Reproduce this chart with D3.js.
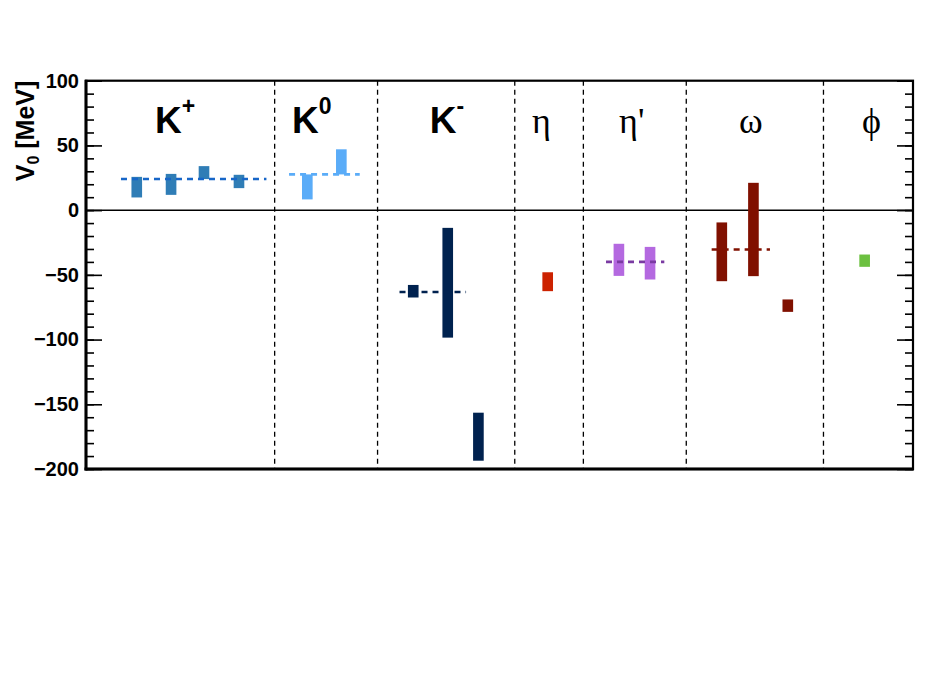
<!DOCTYPE html>
<html>
<head>
<meta charset="utf-8">
<script src="https://cdn.jsdelivr.net/npm/d3@7"></script>
<style>
  html, body { margin: 0; padding: 0; background: #fff; }
  svg { display: block; }
</style>
</head>
<body>
<svg id="chart" width="926" height="695"></svg>
<script>
// ---------------- data ----------------
const yTicks = [-200, -150, -100, -50, 0, 50, 100];
const separators = [2.75, 4.25, 6.25, 7.25, 8.75, 10.75];

const categories = ["K", "K", "K", "\u03B7", "\u03B7'", "\u03C9", "\u03D5"];
const categorySup = ["+", "0", "-", "", "", "", ""];
const categoryPos = [1.30, 3.29, 5.26, 6.64, 7.955, 9.69, 11.45];
const categoryColors = ["#2f7db6", "#5aacf8", "#00224f", "#cc2200", "#b469e0", "#801000", "#6cc040"];
const categoryDashColors = ["#1766c8", "#5aacf8", "#00224f", null, "#7a3aa2", "#801000", null];

// measurements: category index, x position, low, high (MeV)
const measCategory = [0, 0, 0, 0, 1, 1, 2, 2, 2, 3, 4, 4, 5, 5, 5, 6];
const measPos      = [0.74, 1.24, 1.72, 2.23, 3.226, 3.722, 4.77, 5.273, 5.72, 6.73, 7.768, 8.222, 9.268, 9.729, 10.23, 11.35];
const measLow      = [9.8, 11.8, 24, 17, 8.3, 27.6, -67.5, -98.5, -193.6, -62.6, -50.8, -53.6, -54.9, -51, -78.6, -43.8];
const measHigh     = [25.7, 28, 34, 27.3, 27.6, 47, -57.8, -13.7, -156.5, -48, -26, -28.4, -9.5, 21.1, -69, -34.3];

// average lines: category index, x from, x to, value
const avgCategory = [0, 1, 2, 4, 5];
const avgFrom     = [0.51, 2.96, 4.57, 7.58, 9.12];
const avgTo       = [2.63, 3.99, 5.54, 8.43, 9.97];
const avgValue    = [24, 27.6, -63.2, -40, -30.4];

// ---------------- layout ----------------
const L = 86, R = 913, T = 80.7, B = 469;
const svg = d3.select("#chart");
const x = d3.scaleLinear().domain([0, 12.055]).range([L, R]);
const y = d3.scaleLinear().domain([-200, 100]).range([B, T]);
const barW = 0.155;

// zero line
svg.append("line")
  .attr("x1", L).attr("x2", R).attr("y1", y(0)).attr("y2", y(0))
  .attr("stroke", "#000").attr("stroke-width", 1.5);

// separators
svg.selectAll("line.sep").data(separators).join("line")
  .attr("class", "sep")
  .attr("x1", d => x(d)).attr("x2", d => x(d))
  .attr("y1", T).attr("y2", B)
  .attr("stroke", "#000").attr("stroke-width", 1.3)
  .attr("stroke-dasharray", "5,4");

// bars
const meas = measPos.map((p, i) => ({ c: measCategory[i], p, lo: measLow[i], hi: measHigh[i] }));
svg.selectAll("rect.bar").data(meas).join("rect")
  .attr("class", "bar")
  .attr("x", d => x(d.p - barW / 2))
  .attr("width", d => x(d.p + barW / 2) - x(d.p - barW / 2))
  .attr("y", d => y(d.hi))
  .attr("height", d => y(d.lo) - y(d.hi))
  .attr("fill", d => categoryColors[d.c]);

// averages
const avgs = avgValue.map((v, i) => ({ c: avgCategory[i], a: avgFrom[i], b: avgTo[i], v }));
svg.selectAll("line.avg").data(avgs).join("line")
  .attr("class", "avg")
  .attr("x1", d => x(d.a)).attr("x2", d => x(d.b))
  .attr("y1", d => y(d.v)).attr("y2", d => y(d.v))
  .attr("stroke", d => categoryDashColors[d.c])
  .attr("stroke-width", 2.6)
  .attr("stroke-dasharray", "6,5");

// axes ticks
const minorTicks = d3.range(-200, 101, 10);
svg.append("g").attr("transform", `translate(${L},0)`)
  .call(d3.axisLeft(y).tickValues(minorTicks).tickSize(-8).tickFormat(""))
  .call(g => g.select(".domain").remove())
  .call(g => g.selectAll("line").attr("stroke-width", 1.6));
svg.append("g").attr("transform", `translate(${L},0)`)
  .call(d3.axisLeft(y).tickValues(yTicks).tickSize(-16).tickPadding(7))
  .call(g => g.select(".domain").remove())
  .call(g => g.selectAll("line").attr("stroke-width", 1.6))
  .call(g => g.selectAll("text")
    .attr("font-family", "Liberation Sans, Arial, sans-serif")
    .attr("font-weight", "bold").attr("font-size", 20).attr("fill", "#000"));
svg.append("g").attr("transform", `translate(${R},0)`)
  .call(d3.axisRight(y).tickValues(minorTicks).tickSize(-8).tickFormat(""))
  .call(g => g.select(".domain").remove())
  .call(g => g.selectAll("line").attr("stroke-width", 1.6));
svg.append("g").attr("transform", `translate(${R},0)`)
  .call(d3.axisRight(y).tickValues(yTicks).tickSize(-16).tickFormat(""))
  .call(g => g.select(".domain").remove())
  .call(g => g.selectAll("line").attr("stroke-width", 1.6));

// frame
svg.append("rect")
  .attr("x", L).attr("y", T).attr("width", R - L).attr("height", B - T)
  .attr("fill", "none").attr("stroke", "#000").attr("stroke-width", 2.2);
svg.append("line").attr("x1", L).attr("x2", L).attr("y1", T - 1).attr("y2", B + 1.5)
  .attr("stroke", "#000").attr("stroke-width", 3);
svg.append("line").attr("x1", L - 1.5).attr("x2", R + 1).attr("y1", B).attr("y2", B)
  .attr("stroke", "#000").attr("stroke-width", 3);

// y title
const yt = svg.append("text")
  .attr("transform", `translate(34,${T}) rotate(-90)`)
  .attr("text-anchor", "end")
  .style("font-family", "Liberation Sans, Arial, sans-serif")
  .style("font-weight", "bold").style("font-size", "25px").attr("fill", "#000");
yt.append("tspan").text("V");
yt.append("tspan").style("font-size", "16px").attr("dy", 5).text("0");
yt.append("tspan").attr("dy", -5).text(" [MeV]");

// category labels
categories.forEach((c, i) => {
  const isGreek = categorySup[i] === "" ;
  const t = svg.append("text")
    .attr("x", x(categoryPos[i])).attr("y", 132.5)
    .attr("text-anchor", "middle").attr("fill", "#000");
  if (isGreek) {
    t.style("font-family", "Liberation Serif, Times New Roman, serif")
     .style("font-size", "36px").text(c);
  } else {
    t.style("font-family", "Liberation Sans, Arial, sans-serif")
     .style("font-weight", "bold").style("font-size", "37px");
    t.append("tspan").text(c);
    t.append("tspan").style("font-size", "23px").attr("dy", -19).text(categorySup[i]);
  }
});
</script>
</body>
</html>
